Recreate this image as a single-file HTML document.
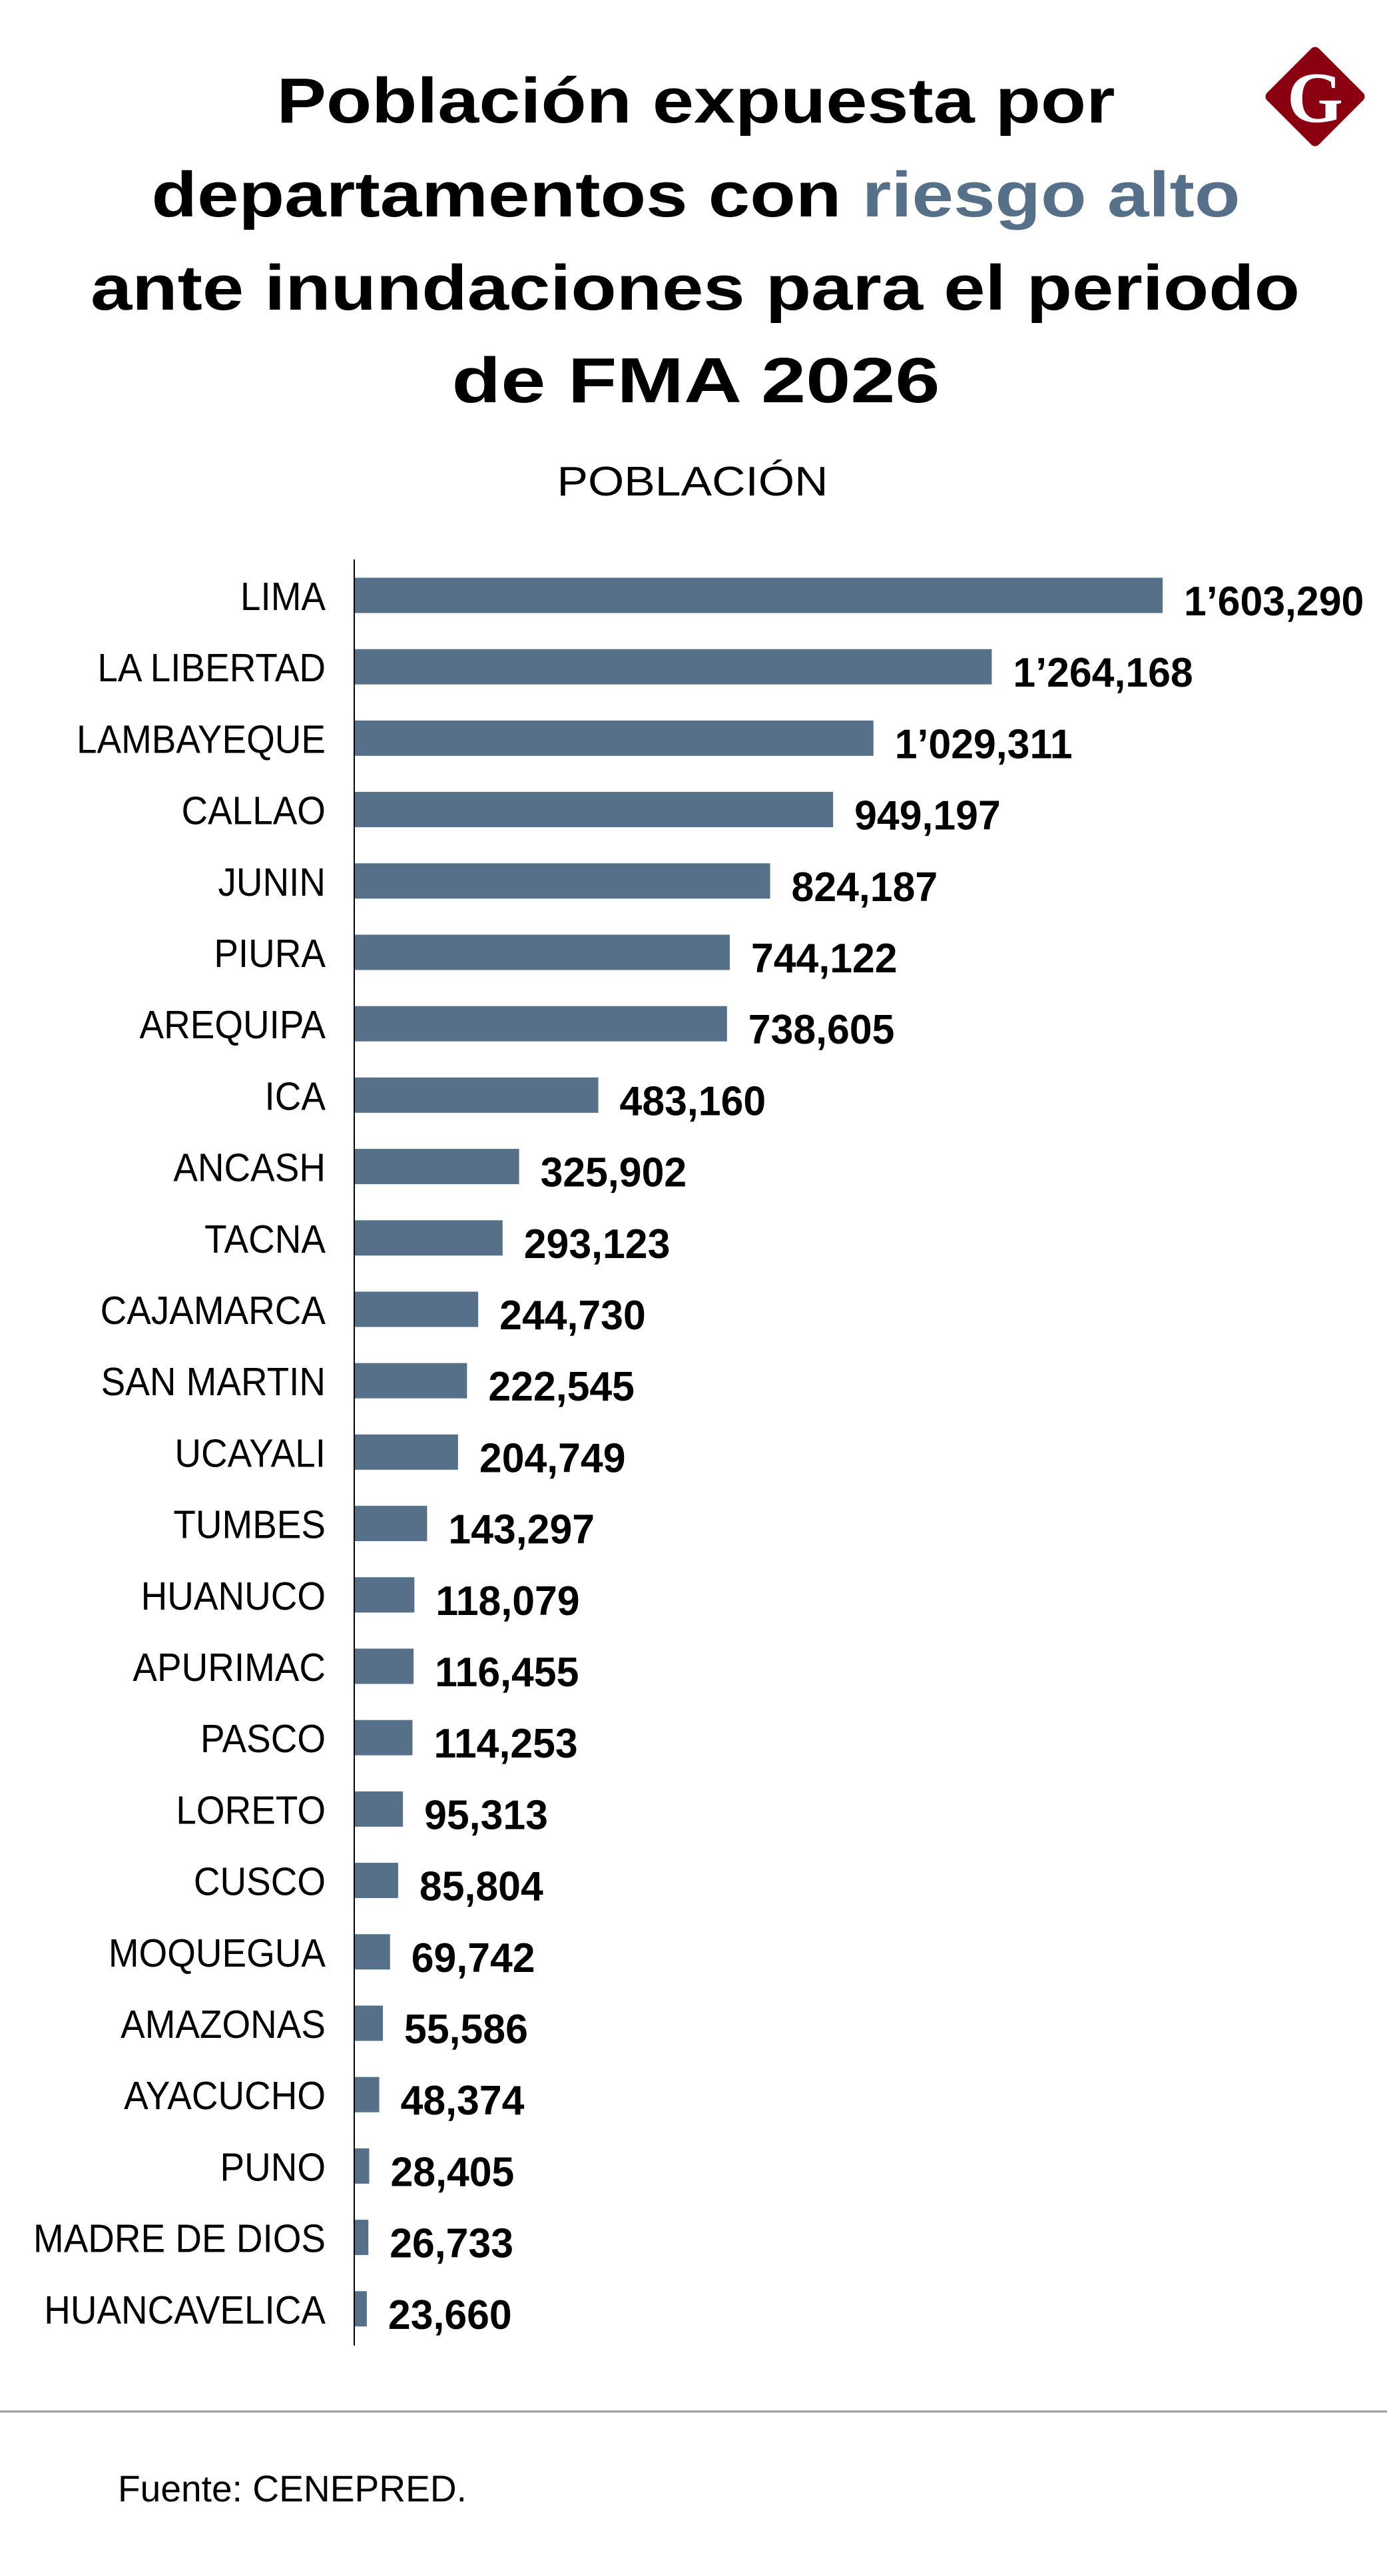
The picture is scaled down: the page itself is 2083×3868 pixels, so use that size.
<!DOCTYPE html>
<html><head><meta charset="utf-8"><style>
html,body{margin:0;padding:0;background:#fff}
svg{display:block}
</style></head><body>
<svg id="chart" width="2083" height="3868" viewBox="0 0 2083 3868" xmlns="http://www.w3.org/2000/svg">
<g font-family="Liberation Sans, sans-serif" font-weight="bold" font-size="96" fill="#000" text-anchor="middle">
<text x="1045" y="184" textLength="1259" lengthAdjust="spacingAndGlyphs">Población expuesta por</text>
<text x="1045" y="325" textLength="1635" lengthAdjust="spacingAndGlyphs">departamentos con <tspan fill="#56708a">riesgo alto</tspan></text>
<text x="1044" y="465" textLength="1816" lengthAdjust="spacingAndGlyphs">ante inundaciones para el periodo</text>
<text x="1045" y="604" textLength="733" lengthAdjust="spacingAndGlyphs">de FMA 2026</text>
</g>
<g>
<rect x="1920" y="90" width="110" height="110" rx="8" fill="#8b0010" transform="rotate(45 1975 145)"/>
<text x="1975" y="183" text-anchor="middle" font-family="Liberation Serif, serif" font-weight="bold" font-size="108" fill="#fff">G</text>
</g>
<text x="1040" y="744" text-anchor="middle" font-family="Liberation Sans, sans-serif" font-size="62" fill="#000" textLength="407" lengthAdjust="spacingAndGlyphs">POBLACIÓN</text>
<line x1="532" y1="840" x2="532" y2="3522" stroke="#000" stroke-width="2"/>
<g id="bars"></g>
<line x1="0" y1="3621" x2="2083" y2="3621" stroke="#999" stroke-width="3"/>
<text x="177" y="3756" font-family="Liberation Sans, sans-serif" font-size="56" fill="#000" textLength="524" lengthAdjust="spacingAndGlyphs">Fuente: CENEPRED.</text>
</svg>
<script>
const categories = ["LIMA","LA LIBERTAD","LAMBAYEQUE","CALLAO","JUNIN","PIURA","AREQUIPA","ICA","ANCASH","TACNA","CAJAMARCA","SAN MARTIN","UCAYALI","TUMBES","HUANUCO","APURIMAC","PASCO","LORETO","CUSCO","MOQUEGUA","AMAZONAS","AYACUCHO","PUNO","MADRE DE DIOS","HUANCAVELICA"];
const values = [1603290,1264168,1029311,949197,824187,744122,738605,483160,325902,293123,244730,222545,204749,143297,118079,116455,114253,95313,85804,69742,55586,48374,28405,26733,23660];
const valueLabels = ["1’603,290","1’264,168","1’029,311","949,197","824,187","744,122","738,605","483,160","325,902","293,123","244,730","222,545","204,749","143,297","118,079","116,455","114,253","95,313","85,804","69,742","55,586","48,374","28,405","26,733","23,660"];

const NS = "http://www.w3.org/2000/svg";
const x0 = 533, xMax = 1603290, plotW = 1213;
const y0 = 894, step = 107.2, barH = 53;
const xScale = v => x0 + v / xMax * plotW;
const yScale = i => y0 + i * step;
const g = document.getElementById('bars');
categories.forEach((c, i) => {
  const cy = yScale(i);
  const r = document.createElementNS(NS, 'rect');
  
  
  r.setAttribute('x', x0);
  r.setAttribute('y', cy - barH / 2);
  r.setAttribute('width', xScale(values[i]) - x0);
  r.setAttribute('height', barH);
  r.setAttribute('fill', '#56708a');
  g.appendChild(r);
  const t = document.createElementNS(NS, 'text');
  
  
  t.setAttribute('transform', `translate(489,${cy + 22}) scale(0.93,1)`);
  t.setAttribute('text-anchor', 'end');
  t.setAttribute('font-family', 'Liberation Sans, sans-serif');
  t.setAttribute('font-size', '59');
  t.textContent = c;
  g.appendChild(t);
  const v = document.createElementNS(NS, 'text');
  
  
  v.setAttribute('transform', `translate(${xScale(values[i]) + 32},${cy + 30}) scale(0.98,1)`);
  v.setAttribute('font-family', 'Liberation Sans, sans-serif');
  v.setAttribute('font-weight', 'bold');
  v.setAttribute('font-size', '62');
  v.textContent = valueLabels[i];
  g.appendChild(v);
});
</script>
</body></html>
